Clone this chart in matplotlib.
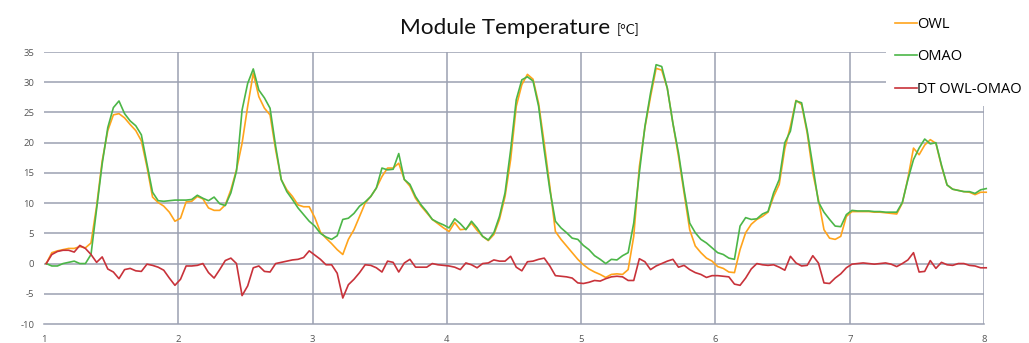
import numpy as np
import matplotlib
matplotlib.use("Agg")
import matplotlib.pyplot as plt
from matplotlib.lines import Line2D

# ---- data (hourly readings, 7 days) ----
owl = [
    # day 1
    0, 1.8, 2.1, 2.3, 2.5, 2.5, 2.8, 2.6, 3.4, 9.5, 17.0, 22.0, 24.6, 24.8, 24.1, 23.0,
    22.0, 20.3, 16.0, 11.0, 10.1, 9.5, 8.5, 7.0,
    # day 2
    7.5, 10.2, 10.3, 11.1, 10.7, 9.2, 8.8, 8.8, 9.7, 12.2, 15.5, 19.9, 26.0, 31.5, 27.6, 25.7,
    24.6, 18.8, 13.9, 12.2, 11.1, 9.7, 9.4, 9.4,
    # day 3
    7.6, 5.2, 4.2, 3.3, 2.3, 1.5, 4.0, 5.6, 7.8, 10.0, 11.1, 12.5, 14.4, 15.8, 15.8, 16.6,
    13.9, 12.8, 10.8, 9.5, 8.4, 7.3, 6.6,
    # day 4
    5.9, 5.3, 6.8, 5.6, 5.7, 6.7, 5.5, 4.5, 3.8, 4.8, 7.3, 11.1, 17.2, 26.0, 29.6, 31.3,
    30.5, 26.5, 19.9, 12.8, 5.3, 4.0, 2.9, 1.8,
    # day 5
    0.7, -0.2, -0.9, -1.4, -1.8, -2.3, -1.8, -1.7, -1.8, -1.0, 4.5, 16.0, 22.5, 27.6, 32.3,
    32.0, 29.0, 23.2, 17.7, 11.7, 5.6, 2.9, 1.8, 0.9, 0.4,
    # day 6
    -0.5, -0.8, -1.4, -1.5, 2.3, 5.1, 6.5, 7.3, 7.8, 8.5, 11.1, 13.1, 19.0, 22.7, 27.0, 26.3,
    21.6, 15.0, 10.6, 5.6, 4.2, 4.0, 4.5,
    # day 7
    7.8, 8.6, 8.6, 8.6, 8.6, 8.5, 8.5, 8.4, 8.3, 8.2, 10.0, 14.1, 19.1, 18.0, 19.6, 20.5,
    19.9, 16.1, 13.0, 12.3, 12.1, 11.9, 11.8, 11.4, 11.8, 11.8,
]

omao = [
    # day 1
    0, -0.4, -0.4, 0.0, 0.2, 0.4, 0.0, 0.0, 1.5, 9.0, 16.5, 22.5, 25.8, 26.9, 24.8, 23.6,
    22.8, 21.3, 16.5, 11.8, 10.4, 10.3, 10.4, 10.5,
    # day 2
    10.5, 10.5, 10.6, 11.3, 10.8, 10.4, 11.0, 9.9, 9.6, 11.7, 15.3, 25.4, 29.8, 32.2, 28.7,
    27.4, 25.7, 19.4, 13.9, 11.9, 10.6, 9.2, 8.1, 7.0,
    # day 3
    6.2, 5.0, 4.4, 4.0, 4.6, 7.3, 7.5, 8.3, 9.5, 10.2, 11.1, 12.5, 15.8, 15.5, 15.6, 18.2,
    13.9, 13.1, 11.1, 9.7, 8.6, 7.3, 6.8,
    # day 4
    6.4, 5.9, 7.4, 6.6, 5.6, 7.0, 5.9, 4.5, 3.9, 5.1, 7.8, 11.7, 18.8, 27.1, 30.4, 30.9,
    30.2, 26.0, 18.8, 12.2, 7.0, 5.9, 5.1, 4.2,
    # day 5
    4.0, 3.0, 2.3, 1.3, 0.7, 0.0, 0.7, 0.6, 1.3, 1.8, 6.7, 15.0, 22.7, 28.2, 32.9, 32.6,
    29.0, 23.2, 18.3, 12.2, 6.7, 5.1, 4.0, 3.4, 2.6,
    # day 6
    1.8, 1.5, 0.9, 0.7, 6.2, 7.6, 7.3, 7.4, 8.2, 8.6, 11.7, 13.9, 20.0, 21.9, 26.9, 26.6,
    22.0, 16.2, 10.2, 8.5, 7.3, 6.2, 6.1,
    # day 7
    8.1, 8.8, 8.7, 8.7, 8.7, 8.6, 8.6, 8.5, 8.5, 8.5, 10.1, 13.9, 17.2, 19.1, 20.6, 19.8,
    20.0, 16.3, 13.0, 12.3, 12.1, 11.9, 11.9, 11.6, 12.2, 12.4,
]

dt = [
    # day 1
    0, 1.5, 2.0, 2.2, 2.2, 1.9, 3.0, 2.5, 1.5, 0.2, 1.1, -0.9, -1.4, -2.5, -1.0, -0.8,
    -1.2, -1.3, -0.1, -0.3, -0.6, -1.1, -2.4, -3.6,
    # day 2
    -2.6, -0.4, -0.4, -0.3, 0.0, -1.5, -2.4, -1.0, 0.5, 0.9, 0.0, -5.3, -3.7, -0.7, -0.4,
    -1.3, -1.4, 0.0, 0.2, 0.4, 0.6, 0.7, 1.0, 2.1,
    # day 3
    1.4, 0.7, -0.2, -0.2, -1.6, -5.7, -3.5, -2.6, -1.5, -0.2, -0.3, -0.7, -1.4, 0.4, 0.2,
    -1.4, 0.1, 0.7, -0.6, -0.6, -0.6, 0.0, -0.2,
    # day 4
    -0.3, -0.4, -0.6, -1.0, 0.1, -0.2, -0.7, 0.0, 0.1, 0.6, 0.4, 0.4, 1.2, -0.6, -1.2, 0.3,
    0.4, 0.7, 0.9, -0.4, -2.0, -2.1, -2.2, -2.4,
    # day 5
    -3.2, -3.3, -3.1, -2.8, -2.9, -2.5, -2.2, -2.1, -2.2, -2.8, -2.8, 0.8, 0.3, -1.0, -0.4,
    0.0, 0.4, 0.7, -0.6, -0.3, -1.0, -1.5, -1.8, -2.3, -2.0,
    # day 6
    -2.0, -2.1, -2.2, -3.4, -3.6, -2.4, -0.9, 0.0, -0.2, -0.3, -0.2, -0.6, -1.1, 1.2, 0.1,
    -0.4, -0.3, 1.3, 0.1, -3.2, -3.3, -2.4, -1.7,
    # day 7
    -0.7, -0.1, 0.0, 0.1, 0.0, -0.1, 0.0, 0.1, -0.1, -0.5, 0.0, 0.6, 1.8, -1.4, -1.3, 0.5,
    -0.8, 0.2, -0.2, -0.3, 0.0, 0.0, -0.3, -0.4, -0.7, -0.7,
]

series_names = ["OWL", "OMAO", "DT OWL-OMAO"]
x_ticks = [1, 2, 3, 4, 5, 6, 7, 8]
y_ticks = [-10, -5, 0, 5, 10, 15, 20, 25, 30, 35]

# hourly samples, day axis
hours = np.arange(len(owl))
x = 1 + (hours + 0.4) / 24.0

plt.rcParams['font.family'] = ['Open Sans', 'DejaVu Sans']

W, H = 1029, 343
fig = plt.figure(figsize=(W / 100, H / 100), dpi=100)
fig.patch.set_facecolor('white')
ax = fig.add_axes([44 / W, 19 / H, 940 / W, 272 / H])

grid_col = '#9ba1b1'
colors = ['#ffa41c', '#4cb648', '#c8323a']

ax.set_xlim(1, 8)
ax.set_ylim(-10, 35)
ax.set_xticks(x_ticks)
ax.set_yticks(y_ticks)
ax.set_xticklabels([str(v) for v in x_ticks])
ax.set_yticklabels([str(v) for v in y_ticks])
for s in ['top', 'right', 'left']:
    ax.spines[s].set_visible(False)
ax.spines['bottom'].set_color(grid_col)
ax.spines['bottom'].set_linewidth(1.1)
ax.tick_params(axis='both', length=0, labelsize=6.8, colors='#555555')
ax.tick_params(axis='y', pad=7)
ax.tick_params(axis='x', pad=8)

for yv in y_ticks[1:]:
    ax.axhline(yv, color=grid_col, lw=1.1, zorder=1)
for xv in x_ticks[1:]:
    ax.axvline(xv, color=grid_col, lw=1.1, zorder=1)

for vals, c in zip([owl, omao, dt], colors):
    ax.plot(x, vals, color=c, lw=1.2, zorder=3, clip_on=False)

# title
fig.text(610 / W, 1 - 34.5 / H, "Module Temperature", fontsize=16.2, ha='right',
         va='baseline', color='#111111', family=['Lato', 'DejaVu Sans'])
fig.text(617 / W, 1 - 34.5 / H, "[°C]", fontsize=9.5, ha='left', va='baseline',
         color='#111111', family=['Lato', 'DejaVu Sans'])

handles = [Line2D([0], [0], color=c, lw=1.2) for c in colors]
leg = fig.legend(handles, series_names, loc='upper left',
                 bbox_to_anchor=(886 / W, 1 - 8 / H), frameon=True,
                 fontsize=10.5, handlelength=1.5, handletextpad=0.05,
                 labelspacing=1.2, borderpad=0.6, borderaxespad=0)
leg.get_frame().set_facecolor('white')
leg.get_frame().set_edgecolor('none')
leg.get_frame().set_alpha(1)
leg.get_frame().set_boxstyle('square', pad=0)
leg.set_zorder(10)

fig.savefig('out.png', dpi=100)
